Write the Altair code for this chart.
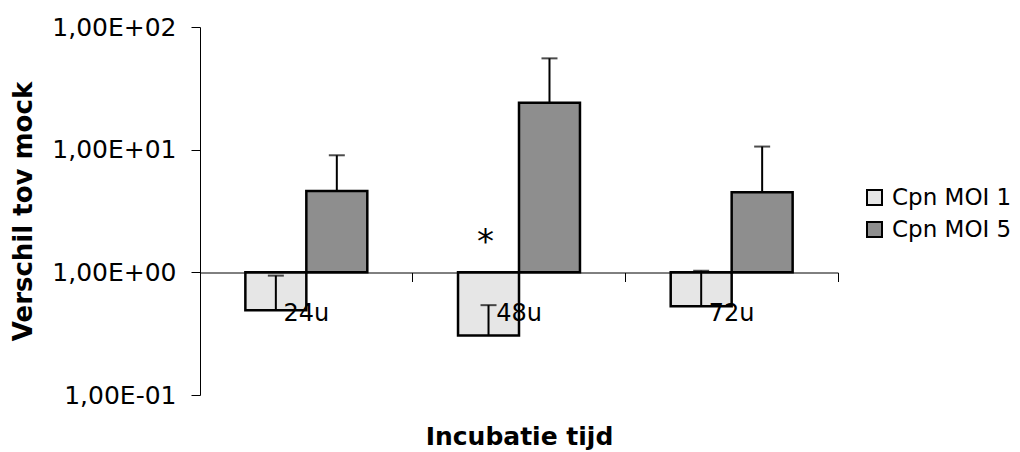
import altair as alt
import pandas as pd

categories = ["24u", "48u", "72u"]
series = ["Cpn MOI 1", "Cpn MOI 5"]
moi1_values = [0.49, 0.305, 0.53]
moi1_err_top = [0.94, 0.54, 1.03]
moi5_values = [4.6, 24.1, 4.5]
moi5_err_top = [9.0, 55.5, 10.6]
baseline = 1.0
y_ticks = [0.1, 1, 10, 100]
y_tick_labels = ["1,00E-01", "1,00E+00", "1,00E+01", "1,00E+02"]
star_category = ["48u"]
star_series = ["Cpn MOI 1"]
star_value = [2.0]
star_text = ["*"]
series_fill = ["#e6e6e6", "#8e8e8e"]

rows = []
for i, c in enumerate(categories):
    rows.append(dict(cat=c, series=series[0], value=moi1_values[i], err=moi1_err_top[i], base=baseline))
    rows.append(dict(cat=c, series=series[1], value=moi5_values[i], err=moi5_err_top[i], base=baseline))
df = pd.DataFrame(rows)
star_df = pd.DataFrame(dict(cat=star_category, series=star_series, value=star_value, txt=star_text))

label_expr = " : ".join(f"datum.value == {v} ? '{l}'" for v, l in zip(y_ticks, y_tick_labels)) + " : ''"

x_enc = alt.X(
    "cat:N",
    sort=categories,
    scale=alt.Scale(paddingInner=0, paddingOuter=0),
    axis=alt.Axis(
        title="Incubatie tijd",
        titleFontSize=25,
        titleFontWeight="bold",
        titleColor="black",
        titleY=172,
        titleBaseline="alphabetic",
        orient="bottom",
        offset=-122.5,
        labelAngle=0,
        labelFontSize=24,
        labelColor="black",
        labelBaseline="alphabetic",
        labelPadding=39,
        tickSize=9,
        tickColor="black",
        tickWidth=1,
        domainColor="black",
        domainWidth=1,
        bandPosition=1,
        tickExtra=True,
        zindex=1,
    ),
)
xoff_enc = alt.XOffset("series:N", sort=series, scale=alt.Scale(paddingInner=0, paddingOuter=0.744))
y_scale = alt.Scale(type="log", domain=[0.1, 100], nice=False)
y_enc = alt.Y(
    "value:Q",
    scale=y_scale,
    axis=alt.Axis(
        title="Verschil tov mock",
        titleFontSize=26,
        titleFontWeight="bold",
        titleColor="black",
        titlePadding=15,
        values=y_ticks,
        labelExpr=label_expr,
        labelFontSize=25,
        labelColor="black",
        labelPadding=15,
        tickSize=9,
        tickColor="black",
        domainColor="black",
        domainWidth=1,
        grid=False,
    ),
)

bars = alt.Chart(df).mark_bar(stroke="black", strokeWidth=2.5).encode(
    x=x_enc,
    xOffset=xoff_enc,
    y=y_enc,
    y2=alt.Y2("base:Q"),
    fill=alt.Fill(
        "series:N",
        sort=series,
        scale=alt.Scale(domain=series, range=series_fill),
        legend=alt.Legend(
            title=None,
            orient="none",
            legendX=663,
            legendY=159,
            labelFontSize=23,
            labelColor="black",
            symbolType="square",
            symbolSize=225,
            symbolStrokeColor="black",
            symbolStrokeWidth=2,
            labelOffset=6,
            rowPadding=8,
            padding=0,
        ),
    ),
)

err_lines = alt.Chart(df).mark_rule(color="black", strokeWidth=2).encode(
    x=alt.X("cat:N", sort=categories),
    xOffset=alt.XOffset("series:N", sort=series),
    y=alt.Y("value:Q"),
    y2=alt.Y2("err:Q"),
)

err_caps = alt.Chart(df).mark_tick(color="black", orient="horizontal", size=16, thickness=2).encode(
    x=alt.X("cat:N", sort=categories),
    xOffset=alt.XOffset("series:N", sort=series),
    y=alt.Y("err:Q"),
)

star = alt.Chart(star_df).mark_text(fontSize=34, color="black", baseline="middle", dx=-3, dy=8).encode(
    x=alt.X("cat:N", sort=categories),
    xOffset=alt.XOffset("series:N", sort=series),
    y=alt.Y("value:Q"),
    text="txt:N",
)

chart = (
    alt.layer(bars, err_lines, err_caps, star)
    .properties(
        width=638,
        height=368,
        autosize="none",
        padding={"left": 192, "top": 19, "right": 174, "bottom": 57},
    )
    .configure(font="DejaVu Sans")
    .configure_view(stroke=None)
)

chart.save("out.html", embed_options={"renderer": "svg", "actions": False})
